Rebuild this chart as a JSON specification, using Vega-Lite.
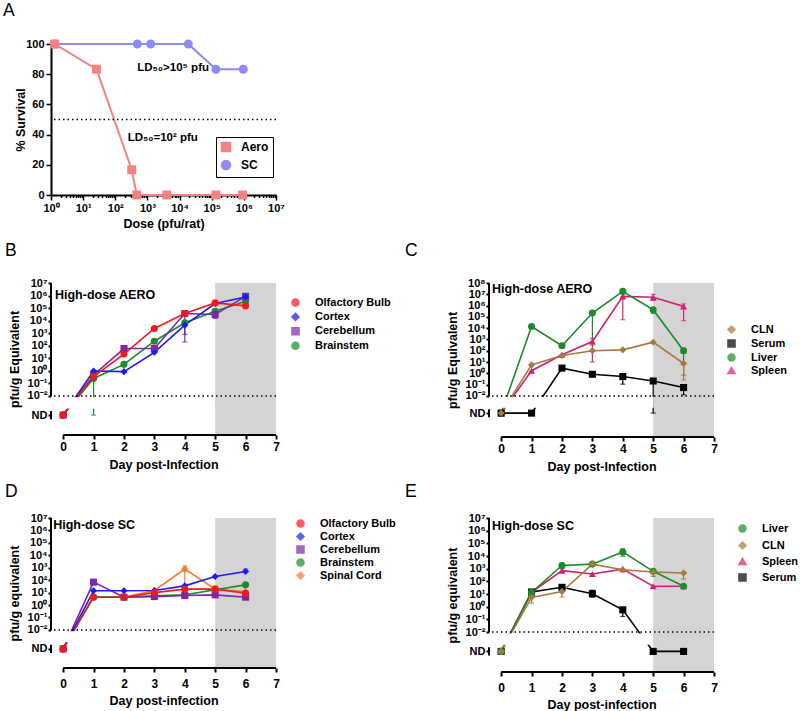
{
 "$schema": "https://vega.github.io/schema/vega-lite/v6.json",
 "padding": {"left": 3, "top": 1, "right": 0, "bottom": 0},
 "config": {
  "font": "Liberation Sans",
  "view": {"stroke": null},
  "axis": {"grid": false, "domainColor": "black", "tickColor": "black", "labelColor": "black", "titleColor": "black", "labelFontWeight": "bold", "titleFontWeight": "bold", "domainWidth": 2, "tickWidth": 1.5, "labelOverlap": false, "labelFlush": false},
  "legend": {"labelFontWeight": "bold", "labelColor": "black", "labelFontSize": 11},
  "title": {"fontWeight": "normal", "fontSize": 17.5, "anchor": "start", "frame": "group", "color": "black"}
 },
 "datasets": {
  "A": [
   {"route": "SC", "dose": 1.3, "survival": 100},
   {"route": "SC", "dose": 485, "survival": 100},
   {"route": "SC", "dose": 1260, "survival": 100},
   {"route": "SC", "dose": 18700, "survival": 100},
   {"route": "SC", "dose": 135000, "survival": 83.3},
   {"route": "SC", "dose": 960000, "survival": 83.3},
   {"route": "Aero", "dose": 1.3, "survival": 100},
   {"route": "Aero", "dose": 26, "survival": 83.3},
   {"route": "Aero", "dose": 325, "survival": 16.7},
   {"route": "Aero", "dose": 465, "survival": 0},
   {"route": "Aero", "dose": 4000, "survival": 0},
   {"route": "Aero", "dose": 135000, "survival": 0},
   {"route": "Aero", "dose": 920000, "survival": 0}
  ],
  "B": [
   {"day": 0, "tissue": "Brainstem", "pfu": 0.0003}, {"day": 1, "tissue": "Brainstem", "pfu": 0.25}, {"day": 2, "tissue": "Brainstem", "pfu": 3.3}, {"day": 3, "tissue": "Brainstem", "pfu": 230}, {"day": 4, "tissue": "Brainstem", "pfu": 6800}, {"day": 5, "tissue": "Brainstem", "pfu": 56000}, {"day": 6, "tissue": "Brainstem", "pfu": 350000},
   {"day": 0, "tissue": "Cerebellum", "pfu": 0.0003}, {"day": 1, "tissue": "Cerebellum", "pfu": 0.47}, {"day": 2, "tissue": "Cerebellum", "pfu": 60}, {"day": 3, "tissue": "Cerebellum", "pfu": 60}, {"day": 4, "tissue": "Cerebellum", "pfu": 37000}, {"day": 5, "tissue": "Cerebellum", "pfu": 31000}, {"day": 6, "tissue": "Cerebellum", "pfu": 870000},
   {"day": 0, "tissue": "Cortex", "pfu": 0.0003}, {"day": 1, "tissue": "Cortex", "pfu": 0.98}, {"day": 2, "tissue": "Cortex", "pfu": 0.87}, {"day": 3, "tissue": "Cortex", "pfu": 30}, {"day": 4, "tissue": "Cortex", "pfu": 4400}, {"day": 5, "tissue": "Cortex", "pfu": 230000}, {"day": 6, "tissue": "Cortex", "pfu": 780000},
   {"day": 0, "tissue": "Olfactory Bulb", "pfu": 0.0003}, {"day": 1, "tissue": "Olfactory Bulb", "pfu": 0.35}, {"day": 2, "tissue": "Olfactory Bulb", "pfu": 22}, {"day": 3, "tissue": "Olfactory Bulb", "pfu": 2400}, {"day": 4, "tissue": "Olfactory Bulb", "pfu": 37000}, {"day": 5, "tissue": "Olfactory Bulb", "pfu": 260000}, {"day": 6, "tissue": "Olfactory Bulb", "pfu": 150000}
  ],
  "B_err": [
   {"day": 1, "tissue": "Brainstem", "lo": 0.0003, "hi": 0.25},
   {"day": 4, "tissue": "Cortex", "lo": 800, "hi": 4400},
   {"day": 4, "tissue": "Cerebellum", "lo": 200, "hi": 37000},
   {"day": 5, "tissue": "Cerebellum", "lo": 15000, "hi": 31000}
  ],
  "C": [
   {"day": 0, "tissue": "Spleen", "pfu": 0.0003}, {"day": 1, "tissue": "Spleen", "pfu": 1.7}, {"day": 2, "tissue": "Spleen", "pfu": 44}, {"day": 3, "tissue": "Spleen", "pfu": 660}, {"day": 4, "tissue": "Spleen", "pfu": 6600000}, {"day": 5, "tissue": "Spleen", "pfu": 5400000}, {"day": 6, "tissue": "Spleen", "pfu": 850000},
   {"day": 0, "tissue": "Liver", "pfu": 0.0003}, {"day": 1, "tissue": "Liver", "pfu": 14000}, {"day": 2, "tissue": "Liver", "pfu": 275}, {"day": 3, "tissue": "Liver", "pfu": 220000}, {"day": 4, "tissue": "Liver", "pfu": 18000000}, {"day": 5, "tissue": "Liver", "pfu": 430000}, {"day": 6, "tissue": "Liver", "pfu": 100},
   {"day": 0, "tissue": "Serum", "pfu": 0.0003}, {"day": 1, "tissue": "Serum", "pfu": 0.0003}, {"day": 2, "tissue": "Serum", "pfu": 2.9}, {"day": 3, "tissue": "Serum", "pfu": 0.83}, {"day": 4, "tissue": "Serum", "pfu": 0.52}, {"day": 5, "tissue": "Serum", "pfu": 0.21}, {"day": 6, "tissue": "Serum", "pfu": 0.055},
   {"day": 0, "tissue": "CLN", "pfu": 0.0003}, {"day": 1, "tissue": "CLN", "pfu": 5.6}, {"day": 2, "tissue": "CLN", "pfu": 38}, {"day": 3, "tissue": "CLN", "pfu": 100}, {"day": 4, "tissue": "CLN", "pfu": 120}, {"day": 5, "tissue": "CLN", "pfu": 575}, {"day": 6, "tissue": "CLN", "pfu": 7.4}
  ],
  "C_err": [
   {"day": 3, "tissue": "Spleen", "lo": 10, "hi": 1260},
   {"day": 3, "tissue": "Liver", "lo": 316, "hi": 350000},
   {"day": 4, "tissue": "Spleen", "lo": 56000, "hi": 6600000},
   {"day": 5, "tissue": "Spleen", "lo": 3000000, "hi": 10000000},
   {"day": 6, "tissue": "Spleen", "lo": 46000, "hi": 1400000},
   {"day": 5, "tissue": "Liver", "lo": 200000, "hi": 430000},
   {"day": 6, "tissue": "Liver", "lo": 0.7, "hi": 170},
   {"day": 6, "tissue": "CLN", "lo": 0.26, "hi": 7.4},
   {"day": 4, "tissue": "Serum", "lo": 0.11, "hi": 0.52},
   {"day": 5, "tissue": "Serum", "lo": 0.0003, "hi": 0.21},
   {"day": 6, "tissue": "Serum", "lo": 0.0126, "hi": 0.055}
  ],
  "D": [
   {"day": 0, "tissue": "Spinal Cord", "pfu": 0.0003}, {"day": 1, "tissue": "Spinal Cord", "pfu": 4.8}, {"day": 2, "tissue": "Spinal Cord", "pfu": 4.3}, {"day": 3, "tissue": "Spinal Cord", "pfu": 15}, {"day": 4, "tissue": "Spinal Cord", "pfu": 780}, {"day": 5, "tissue": "Spinal Cord", "pfu": 19}, {"day": 6, "tissue": "Spinal Cord", "pfu": 12},
   {"day": 0, "tissue": "Brainstem", "pfu": 0.0003}, {"day": 1, "tissue": "Brainstem", "pfu": 4.5}, {"day": 2, "tissue": "Brainstem", "pfu": 4.5}, {"day": 3, "tissue": "Brainstem", "pfu": 5.6}, {"day": 4, "tissue": "Brainstem", "pfu": 6.6}, {"day": 5, "tissue": "Brainstem", "pfu": 17}, {"day": 6, "tissue": "Brainstem", "pfu": 42},
   {"day": 0, "tissue": "Cerebellum", "pfu": 0.0003}, {"day": 1, "tissue": "Cerebellum", "pfu": 70}, {"day": 2, "tissue": "Cerebellum", "pfu": 4.3}, {"day": 3, "tissue": "Cerebellum", "pfu": 4.8}, {"day": 4, "tissue": "Cerebellum", "pfu": 5.8}, {"day": 5, "tissue": "Cerebellum", "pfu": 6.6}, {"day": 6, "tissue": "Cerebellum", "pfu": 4.3},
   {"day": 0, "tissue": "Cortex", "pfu": 0.0003}, {"day": 1, "tissue": "Cortex", "pfu": 14}, {"day": 2, "tissue": "Cortex", "pfu": 14}, {"day": 3, "tissue": "Cortex", "pfu": 15}, {"day": 4, "tissue": "Cortex", "pfu": 35}, {"day": 5, "tissue": "Cortex", "pfu": 200}, {"day": 6, "tissue": "Cortex", "pfu": 500},
   {"day": 0, "tissue": "Olfactory Bulb", "pfu": 0.0003}, {"day": 1, "tissue": "Olfactory Bulb", "pfu": 4.3}, {"day": 2, "tissue": "Olfactory Bulb", "pfu": 4.3}, {"day": 3, "tissue": "Olfactory Bulb", "pfu": 10}, {"day": 4, "tissue": "Olfactory Bulb", "pfu": 19}, {"day": 5, "tissue": "Olfactory Bulb", "pfu": 19}, {"day": 6, "tissue": "Olfactory Bulb", "pfu": 9}
  ],
  "D_err": [
   {"day": 4, "tissue": "Spinal Cord", "lo": 30, "hi": 1450},
   {"day": 6, "tissue": "Cortex", "lo": 500, "hi": 780},
   {"day": 4, "tissue": "Cerebellum", "lo": 3.5, "hi": 5.8},
   {"day": 1, "tissue": "Cerebellum", "lo": 70, "hi": 100},
   {"day": 1, "tissue": "Olfactory Bulb", "lo": 2.8, "hi": 4.3},
   {"day": 5, "tissue": "Spinal Cord", "lo": 19, "hi": 35}
  ],
  "E": [
   {"day": 0, "tissue": "Serum", "pfu": 0.0003}, {"day": 1, "tissue": "Serum", "pfu": 14.5}, {"day": 2, "tissue": "Serum", "pfu": 34}, {"day": 3, "tissue": "Serum", "pfu": 10.7}, {"day": 4, "tissue": "Serum", "pfu": 0.57}, {"day": 5, "tissue": "Serum", "pfu": 0.0003}, {"day": 6, "tissue": "Serum", "pfu": 0.0003},
   {"day": 0, "tissue": "Spleen", "pfu": 0.0003}, {"day": 1, "tissue": "Spleen", "pfu": 13.5}, {"day": 2, "tissue": "Spleen", "pfu": 700}, {"day": 3, "tissue": "Spleen", "pfu": 380}, {"day": 4, "tissue": "Spleen", "pfu": 930}, {"day": 5, "tissue": "Spleen", "pfu": 41}, {"day": 6, "tissue": "Spleen", "pfu": 41},
   {"day": 0, "tissue": "Liver", "pfu": 0.0003}, {"day": 1, "tissue": "Liver", "pfu": 13.5}, {"day": 2, "tissue": "Liver", "pfu": 1800}, {"day": 3, "tissue": "Liver", "pfu": 2300}, {"day": 4, "tissue": "Liver", "pfu": 21000}, {"day": 5, "tissue": "Liver", "pfu": 620}, {"day": 6, "tissue": "Liver", "pfu": 41},
   {"day": 0, "tissue": "CLN", "pfu": 0.0003}, {"day": 1, "tissue": "CLN", "pfu": 5.5}, {"day": 2, "tissue": "CLN", "pfu": 16}, {"day": 3, "tissue": "CLN", "pfu": 2300}, {"day": 4, "tissue": "CLN", "pfu": 830}, {"day": 5, "tissue": "CLN", "pfu": 550}, {"day": 6, "tissue": "CLN", "pfu": 460}
  ],
  "E_err": [
   {"day": 4, "tissue": "Liver", "lo": 9300, "hi": 38000},
   {"day": 2, "tissue": "Liver", "lo": 1100, "hi": 2800},
   {"day": 1, "tissue": "CLN", "lo": 1.9, "hi": 5.5},
   {"day": 2, "tissue": "CLN", "lo": 5.8, "hi": 16},
   {"day": 6, "tissue": "CLN", "lo": 150, "hi": 460},
   {"day": 4, "tissue": "Serum", "lo": 0.17, "hi": 0.57},
   {"day": 3, "tissue": "Serum", "lo": 5.6, "hi": 20},
   {"day": 2, "tissue": "Spleen", "lo": 500, "hi": 1000},
   {"day": 5, "tissue": "Liver", "lo": 250, "hi": 620}
  ]
 },
 "resolve": {"scale": {"x": "independent", "y": "independent", "color": "independent", "shape": "independent"}, "axis": {"x": "independent", "y": "independent"}, "legend": {"color": "independent", "shape": "independent"}},
 "bounds": "flush",
 "columns": 2,
 "spacing": {"row": 81, "column": 213},
 "concat": [
    {
     "width": 225, "height": 151,
     "title": {"text": "A", "dx": -48, "offset": 19},
     "data": {"name": "A"},
     "layer": [
      {"mark": {"type": "line", "strokeWidth": 2}, "encoding": {
        "x": {"field": "dose", "type": "quantitative", "scale": {"type": "log", "domain": [1, 10000000], "nice": false},
              "axis": {"values": [1,2,3,4,5,6,7,8,9,10,20,30,40,50,60,70,80,90,100,200,300,400,500,600,700,800,900,1000,2000,3000,4000,5000,6000,7000,8000,9000,10000,20000,30000,40000,50000,60000,70000,80000,90000,100000,200000,300000,400000,500000,600000,700000,800000,900000,1000000,2000000,3000000,4000000,5000000,6000000,7000000,8000000,9000000,10000000],
                       "tickCount": 100,
                       "labelExpr": "abs(log(datum.value)/LN10 - round(log(datum.value)/LN10)) < 0.01 ? '10' + ['⁰','¹','²','³','⁴','⁵','⁶','⁷','⁸','⁹'][round(log(datum.value)/LN10)] : ''",
                       "tickSize": {"condition": {"test": "abs(log(datum.value)/LN10 - round(log(datum.value)/LN10)) < 0.01", "value": 5}, "value": 2.5},
                       "labelOverlap": false, "labelFlush": false, "labelFontSize": 11, "labelPadding": 2, "titleFontSize": 12.5, "titlePadding": 4},
              "title": "Dose (pfu/rat)"},
        "y": {"field": "survival", "type": "quantitative", "scale": {"domain": [0, 100], "nice": false},
              "axis": {"values": [0, 20, 40, 60, 80, 100], "tickCount": 20, "format": "d", "tickSize": 5, "labelOverlap": false, "labelFontSize": 11, "labelPadding": 2, "titleFontSize": 12.5, "titlePadding": -2},
              "title": "% Survival"},
        "color": {"field": "route", "type": "nominal", "scale": {"domain": ["Aero", "SC"], "range": ["#f48282", "#8b8bf3"]},
                  "legend": {"orient": "none", "legendX": 165, "legendY": 93, "title": null, "strokeColor": "black", "padding": 4, "symbolSize": 80, "labelOffset": 9, "rowPadding": 2, "labelFontSize": 12}}
      }},
      {"data": {"values": [{}]}, "mark": {"type": "rule", "strokeDash": [1.5, 3], "strokeWidth": 1.5, "color": "black"}, "encoding": {"y": {"datum": 50, "type": "quantitative"}}},
      {"mark": {"type": "point", "filled": true, "size": 80, "opacity": 1}, "encoding": {
        "x": {"field": "dose", "type": "quantitative"},
        "y": {"field": "survival", "type": "quantitative"},
        "color": {"field": "route", "type": "nominal"},
        "shape": {"field": "route", "type": "nominal", "scale": {"domain": ["Aero", "SC"], "range": ["square", "circle"]}}
      }},
      {"data": {"values": [{}]}, "mark": {"type": "text", "align": "center", "baseline": "middle", "fontSize": 11.5, "fontWeight": "bold", "color": "black"}, "encoding": {"x": {"datum": 6300, "type": "quantitative"}, "y": {"datum": 84, "type": "quantitative"}, "text": {"value": "LD₅₀>10⁵ pfu"}}},
      {"data": {"values": [{}]}, "mark": {"type": "text", "align": "center", "baseline": "middle", "fontSize": 11.5, "fontWeight": "bold", "color": "black"}, "encoding": {"x": {"datum": 3000, "type": "quantitative"}, "y": {"datum": 37.7, "type": "quantitative"}, "text": {"value": "LD₅₀=10² pfu"}}}
     ]
    },
    {
     "width": 225, "height": 158,
     "data": {"values": [{}]},
     "mark": {"type": "point", "opacity": 0},
     "encoding": {}
    },
      {
       "width": 225, "height": 152,
       "title": {"text": "B", "dx": -46, "offset": 18},
       "layer": [
        {"data": {"values": [{}]}, "mark": {"type": "rect", "color": "#d4d4d4"}, "encoding": {"x": {"datum": 5, "type": "quantitative"}, "x2": {"datum": 7}, "y": {"datum": 7.8e-6, "type": "quantitative"}, "y2": {"datum": 10000000}}},
        {"data": {"name": "B_err"}, "mark": {"type": "errorbar", "ticks": true, "thickness": 1.2}, "encoding": {"x": {"field": "day", "type": "quantitative", "title": "Day post-Infection"}, "y": {"field": "lo", "type": "quantitative", "title": "pfu/g Equivalent"}, "y2": {"field": "hi"}, "color": {"field": "tissue", "type": "nominal"}}},
        {"data": {"name": "B"}, "mark": {"type": "line", "strokeWidth": 1.6}, "encoding": {
          "x": {"field": "day", "type": "quantitative", "scale": {"domain": [-0.4, 7], "nice": false, "zero": false},
                "axis": {"values": [0,1,2,3,4,5,6,7], "tickCount": 20, "format": "d", "domain": false, "tickSize": 4, "tickWidth": 2, "labelOverlap": false, "labelFontSize": 12, "labelPadding": 2, "titleFontSize": 12.5, "titlePadding": 6},
                "title": "Day post-Infection"},
          "y": {"field": "pfu", "type": "quantitative", "scale": {"type": "log", "domain": [7.8e-6, 10000000], "nice": false},
                "axis": {"values": [0.0003, 0.01, 0.1, 1, 10, 100, 1000, 10000, 100000, 1000000, 10000000], "tickCount": 30,
                         "labelExpr": "datum.value < 0.001 ? 'ND' : '10' + (datum.value < 0.5 ? '⁻' : '') + ['⁰','¹','²','³','⁴','⁵','⁶','⁷','⁸','⁹'][abs(round(log(datum.value)/LN10))]",
                         "domain": false, "tickSize": 3, "tickWidth": 2, "labelFontSize": 11, "labelPadding": 1, "labelOverlap": false, "titleFontSize": 12.5, "titlePadding": 6},
                "title": "pfu/g Equivalent"},
          "color": {"field": "tissue", "type": "nominal", "scale": {"domain": ["Olfactory Bulb", "Cortex", "Cerebellum", "Brainstem"], "range": ["#f2191e", "#1c1cf0", "#7f26a8", "#1a8a2a"]},
                    "legend": {"orient": "none", "legendX": 239, "legendY": 14, "title": null, "padding": 0, "symbolSize": 50, "labelOffset": 14, "rowPadding": -0.6}}
        }},
        {"data": {"name": "B"}, "mark": {"type": "point", "filled": true, "size": 50, "opacity": 1}, "encoding": {
          "x": {"field": "day", "type": "quantitative"},
          "y": {"field": "pfu", "type": "quantitative"},
          "color": {"field": "tissue", "type": "nominal"},
          "shape": {"field": "tissue", "type": "nominal", "scale": {"domain": ["Olfactory Bulb", "Cortex", "Cerebellum", "Brainstem"], "range": ["circle", "diamond", "square", "circle"]}}
        }},
        {"data": {"values": [{}]}, "mark": {"type": "rect", "color": "white"}, "encoding": {"x": {"datum": -0.4, "type": "quantitative"}, "x2": {"datum": 5}, "y": {"datum": 0.001, "type": "quantitative"}, "y2": {"datum": 0.0079}}},
        {"data": {"values": [{}]}, "mark": {"type": "rect", "color": "#d4d4d4"}, "encoding": {"x": {"datum": 5, "type": "quantitative"}, "x2": {"datum": 7}, "y": {"datum": 0.001, "type": "quantitative"}, "y2": {"datum": 0.0079}}},
        {"data": {"values": [{}]}, "mark": {"type": "rule", "strokeDash": [1.5, 3], "strokeWidth": 1.5, "color": "black"}, "encoding": {"y": {"datum": 0.01, "type": "quantitative"}}},
        {"data": {"values": [{}]}, "mark": {"type": "rule", "strokeWidth": 2, "color": "black"}, "encoding": {"x": {"datum": -0.4, "type": "quantitative"}, "y": {"datum": 0.01, "type": "quantitative"}, "y2": {"datum": 10000000}}},
        {"data": {"values": [{}]}, "mark": {"type": "rule", "strokeWidth": 2, "color": "black"}, "encoding": {"x": {"datum": -0.4, "type": "quantitative"}, "y": {"datum": 0.00014, "type": "quantitative"}, "y2": {"datum": 0.00063}}},
        {"data": {"values": [{}]}, "mark": {"type": "rule", "strokeWidth": 2, "color": "black"}, "encoding": {"x": {"datum": 0, "type": "quantitative"}, "x2": {"datum": 7}, "y": {"datum": 7.8e-6, "type": "quantitative"}}},
        {"data": {"values": [{}]}, "mark": {"type": "text", "align": "left", "baseline": "middle", "fontSize": 12.5, "fontWeight": "bold", "color": "black"}, "encoding": {"x": {"datum": -0.27, "type": "quantitative"}, "y": {"datum": 1100000, "type": "quantitative"}, "text": {"value": "High-dose AERO"}}}
       ]
      },
      {
       "width": 225, "height": 154,
       "title": {"text": "C", "dx": -84, "offset": 18},
       "layer": [
        {"data": {"values": [{}]}, "mark": {"type": "rect", "color": "#d4d4d4"}, "encoding": {"x": {"datum": 5, "type": "quantitative"}, "x2": {"datum": 7}, "y": {"datum": 2.3e-6, "type": "quantitative"}, "y2": {"datum": 100000000}}},
        {"data": {"name": "C_err"}, "mark": {"type": "errorbar", "ticks": true, "thickness": 1.2}, "encoding": {"x": {"field": "day", "type": "quantitative", "title": "Day post-Infection"}, "y": {"field": "lo", "type": "quantitative", "title": "pfu/g Equivalent"}, "y2": {"field": "hi"}, "color": {"field": "tissue", "type": "nominal"}}},
        {"data": {"name": "C"}, "mark": {"type": "line", "strokeWidth": 1.6}, "encoding": {
          "x": {"field": "day", "type": "quantitative", "scale": {"domain": [-0.4, 7], "nice": false, "zero": false},
                "axis": {"values": [0,1,2,3,4,5,6,7], "tickCount": 20, "format": "d", "domain": false, "tickSize": 4, "tickWidth": 2, "labelOverlap": false, "labelFontSize": 12, "labelPadding": 2, "titleFontSize": 12.5, "titlePadding": 6},
                "title": "Day post-Infection"},
          "y": {"field": "pfu", "type": "quantitative", "scale": {"type": "log", "domain": [2.3e-6, 100000000], "nice": false},
                "axis": {"values": [0.0003, 0.01, 0.1, 1, 10, 100, 1000, 10000, 100000, 1000000, 10000000, 100000000], "tickCount": 30,
                         "labelExpr": "datum.value < 0.001 ? 'ND' : '10' + (datum.value < 0.5 ? '⁻' : '') + ['⁰','¹','²','³','⁴','⁵','⁶','⁷','⁸','⁹'][abs(round(log(datum.value)/LN10))]",
                         "domain": false, "tickSize": 3, "tickWidth": 2, "labelFontSize": 11, "labelPadding": 1, "labelOverlap": false, "titleFontSize": 12.5, "titlePadding": 6},
                "title": "pfu/g Equivalent"},
          "color": {"field": "tissue", "type": "nominal", "scale": {"domain": ["CLN", "Serum", "Liver", "Spleen"], "range": ["#a57a3e", "#000000", "#1a8a2a", "#d2226f"]},
                    "legend": {"orient": "none", "legendX": 237, "legendY": 41, "title": null, "padding": 0, "symbolSize": 50, "labelOffset": 14, "rowPadding": -1}}
        }},
        {"data": {"name": "C"}, "mark": {"type": "point", "filled": true, "size": 50, "opacity": 1}, "encoding": {
          "x": {"field": "day", "type": "quantitative"},
          "y": {"field": "pfu", "type": "quantitative"},
          "color": {"field": "tissue", "type": "nominal"},
          "shape": {"field": "tissue", "type": "nominal", "scale": {"domain": ["CLN", "Serum", "Liver", "Spleen"], "range": ["diamond", "square", "circle", "triangle-up"]}}
        }},
        {"data": {"values": [{}]}, "mark": {"type": "rect", "color": "white"}, "encoding": {"x": {"datum": -0.4, "type": "quantitative"}, "x2": {"datum": 5}, "y": {"datum": 0.00089, "type": "quantitative"}, "y2": {"datum": 0.0079}}},
        {"data": {"values": [{}]}, "mark": {"type": "rect", "color": "#d4d4d4"}, "encoding": {"x": {"datum": 5, "type": "quantitative"}, "x2": {"datum": 7}, "y": {"datum": 0.00089, "type": "quantitative"}, "y2": {"datum": 0.0079}}},
        {"data": {"values": [{}]}, "mark": {"type": "rule", "strokeDash": [1.5, 3], "strokeWidth": 1.5, "color": "black"}, "encoding": {"y": {"datum": 0.01, "type": "quantitative"}}},
        {"data": {"values": [{}]}, "mark": {"type": "rule", "strokeWidth": 2, "color": "black"}, "encoding": {"x": {"datum": -0.4, "type": "quantitative"}, "y": {"datum": 0.01, "type": "quantitative"}, "y2": {"datum": 100000000}}},
        {"data": {"values": [{}]}, "mark": {"type": "rule", "strokeWidth": 2, "color": "black"}, "encoding": {"x": {"datum": -0.4, "type": "quantitative"}, "y": {"datum": 0.00013, "type": "quantitative"}, "y2": {"datum": 0.00065}}},
        {"data": {"values": [{}]}, "mark": {"type": "rule", "strokeWidth": 2, "color": "black"}, "encoding": {"x": {"datum": 0, "type": "quantitative"}, "x2": {"datum": 7}, "y": {"datum": 2.3e-6, "type": "quantitative"}}},
        {"data": {"values": [{}]}, "mark": {"type": "text", "align": "left", "baseline": "middle", "fontSize": 12.5, "fontWeight": "bold", "color": "black"}, "encoding": {"x": {"datum": -0.3, "type": "quantitative"}, "y": {"datum": 30000000, "type": "quantitative"}, "text": {"value": "High-dose AERO"}}}
       ]
      },
    {
     "width": 225, "height": 150,
     "title": {"text": "D", "dx": -46, "offset": 12},
     "layer": [
      {"data": {"values": [{}]}, "mark": {"type": "rect", "color": "#d4d4d4"}, "encoding": {"x": {"datum": 5, "type": "quantitative"}, "x2": {"datum": 7}, "y": {"datum": 8.7e-6, "type": "quantitative"}, "y2": {"datum": 10000000}}},
      {"data": {"name": "D_err"}, "mark": {"type": "errorbar", "ticks": true, "thickness": 1.2}, "encoding": {"x": {"field": "day", "type": "quantitative", "title": "Day post-infection"}, "y": {"field": "lo", "type": "quantitative", "title": "pfu/g equivalent"}, "y2": {"field": "hi"}, "color": {"field": "tissue", "type": "nominal"}}},
      {"data": {"name": "D"}, "mark": {"type": "line", "strokeWidth": 1.6}, "encoding": {
        "x": {"field": "day", "type": "quantitative", "scale": {"domain": [-0.4, 7], "nice": false, "zero": false},
              "axis": {"values": [0,1,2,3,4,5,6,7], "tickCount": 20, "format": "d", "domain": false, "tickSize": 4, "tickWidth": 2, "labelOverlap": false, "labelFontSize": 12, "labelPadding": 6, "titleFontSize": 12.5, "titlePadding": 5},
              "title": "Day post-infection"},
        "y": {"field": "pfu", "type": "quantitative", "scale": {"type": "log", "domain": [8.7e-6, 10000000], "nice": false},
              "axis": {"values": [0.0003, 0.01, 0.1, 1, 10, 100, 1000, 10000, 100000, 1000000, 10000000], "tickCount": 30,
                       "labelExpr": "datum.value < 0.001 ? 'ND' : '10' + (datum.value < 0.5 ? '⁻' : '') + ['⁰','¹','²','³','⁴','⁵','⁶','⁷','⁸','⁹'][abs(round(log(datum.value)/LN10))]",
                       "domain": false, "tickSize": 3, "tickWidth": 2, "labelFontSize": 11, "labelPadding": 1, "labelOverlap": false, "titleFontSize": 12.5, "titlePadding": 6},
              "title": "pfu/g equivalent"},
        "color": {"field": "tissue", "type": "nominal", "scale": {"domain": ["Olfactory Bulb", "Cortex", "Cerebellum", "Brainstem", "Spinal Cord"], "range": ["#f2191e", "#1c1cf0", "#7f26a8", "#1a8a2a", "#fb7a28"]},
                  "legend": {"orient": "none", "legendX": 244, "legendY": 0, "title": null, "padding": 0, "symbolSize": 50, "labelOffset": 14, "rowPadding": -2.3}}
      }},
      {"data": {"name": "D"}, "mark": {"type": "point", "filled": true, "size": 50, "opacity": 1}, "encoding": {
        "x": {"field": "day", "type": "quantitative"},
        "y": {"field": "pfu", "type": "quantitative"},
        "color": {"field": "tissue", "type": "nominal"},
        "shape": {"field": "tissue", "type": "nominal", "scale": {"domain": ["Olfactory Bulb", "Cortex", "Cerebellum", "Brainstem", "Spinal Cord"], "range": ["circle", "diamond", "square", "circle", "diamond"]}}
      }},
      {"data": {"values": [{}]}, "mark": {"type": "rect", "color": "white"}, "encoding": {"x": {"datum": -0.4, "type": "quantitative"}, "x2": {"datum": 5}, "y": {"datum": 0.001, "type": "quantitative"}, "y2": {"datum": 0.0079}}},
      {"data": {"values": [{}]}, "mark": {"type": "rect", "color": "#d4d4d4"}, "encoding": {"x": {"datum": 5, "type": "quantitative"}, "x2": {"datum": 7}, "y": {"datum": 0.001, "type": "quantitative"}, "y2": {"datum": 0.0079}}},
      {"data": {"values": [{}]}, "mark": {"type": "rule", "strokeDash": [1.5, 3], "strokeWidth": 1.5, "color": "black"}, "encoding": {"y": {"datum": 0.01, "type": "quantitative"}}},
      {"data": {"values": [{}]}, "mark": {"type": "rule", "strokeWidth": 2, "color": "black"}, "encoding": {"x": {"datum": -0.4, "type": "quantitative"}, "y": {"datum": 0.01, "type": "quantitative"}, "y2": {"datum": 10000000}}},
      {"data": {"values": [{}]}, "mark": {"type": "rule", "strokeWidth": 2, "color": "black"}, "encoding": {"x": {"datum": -0.4, "type": "quantitative"}, "y": {"datum": 0.00014, "type": "quantitative"}, "y2": {"datum": 0.00063}}},
      {"data": {"values": [{}]}, "mark": {"type": "rule", "strokeWidth": 2, "color": "black"}, "encoding": {"x": {"datum": 0, "type": "quantitative"}, "x2": {"datum": 7}, "y": {"datum": 8.7e-6, "type": "quantitative"}}},
      {"data": {"values": [{}]}, "mark": {"type": "text", "align": "left", "baseline": "middle", "fontSize": 12.5, "fontWeight": "bold", "color": "black"}, "encoding": {"x": {"datum": -0.33, "type": "quantitative"}, "y": {"datum": 2900000, "type": "quantitative"}, "text": {"value": "High-dose SC"}}}
     ]
    },
    {
     "width": 225, "height": 154,
     "title": {"text": "E", "dx": -84, "offset": 12},
     "layer": [
      {"data": {"values": [{}]}, "mark": {"type": "rect", "color": "#d4d4d4"}, "encoding": {"x": {"datum": 5, "type": "quantitative"}, "x2": {"datum": 7}, "y": {"datum": 7.1e-6, "type": "quantitative"}, "y2": {"datum": 10000000}}},
      {"data": {"name": "E_err"}, "mark": {"type": "errorbar", "ticks": true, "thickness": 1.2}, "encoding": {"x": {"field": "day", "type": "quantitative", "title": "Day post-infection"}, "y": {"field": "lo", "type": "quantitative", "title": "pfu/g equivalent"}, "y2": {"field": "hi"}, "color": {"field": "tissue", "type": "nominal"}}},
      {"data": {"name": "E"}, "mark": {"type": "line", "strokeWidth": 1.6}, "encoding": {
        "x": {"field": "day", "type": "quantitative", "scale": {"domain": [-0.4, 7], "nice": false, "zero": false},
              "axis": {"values": [0,1,2,3,4,5,6,7], "tickCount": 20, "format": "d", "domain": false, "tickSize": 4, "tickWidth": 2, "labelOverlap": false, "labelFontSize": 12, "labelPadding": 6, "titleFontSize": 12.5, "titlePadding": 5},
              "title": "Day post-infection"},
        "y": {"field": "pfu", "type": "quantitative", "scale": {"type": "log", "domain": [7.1e-6, 10000000], "nice": false},
              "axis": {"values": [0.0003, 0.01, 0.1, 1, 10, 100, 1000, 10000, 100000, 1000000, 10000000], "tickCount": 30,
                       "labelExpr": "datum.value < 0.001 ? 'ND' : '10' + (datum.value < 0.5 ? '⁻' : '') + ['⁰','¹','²','³','⁴','⁵','⁶','⁷','⁸','⁹'][abs(round(log(datum.value)/LN10))]",
                       "domain": false, "tickSize": 3, "tickWidth": 2, "labelFontSize": 11, "labelPadding": 1, "labelOverlap": false, "titleFontSize": 12.5, "titlePadding": 6},
              "title": "pfu/g equivalent"},
        "color": {"field": "tissue", "type": "nominal", "scale": {"domain": ["Liver", "CLN", "Spleen", "Serum"], "range": ["#1a8a2a", "#a57a3e", "#d2226f", "#000000"]},
                  "legend": {"orient": "none", "legendX": 248, "legendY": 5, "title": null, "padding": 0, "symbolSize": 50, "labelOffset": 14, "rowPadding": 2}}
      }},
      {"data": {"name": "E"}, "mark": {"type": "point", "filled": true, "size": 50, "opacity": 1}, "encoding": {
        "x": {"field": "day", "type": "quantitative"},
        "y": {"field": "pfu", "type": "quantitative"},
        "color": {"field": "tissue", "type": "nominal"},
        "shape": {"field": "tissue", "type": "nominal", "scale": {"domain": ["Liver", "CLN", "Spleen", "Serum"], "range": ["circle", "diamond", "triangle-up", "square"]}}
      }},
      {"data": {"values": [{}]}, "mark": {"type": "rect", "color": "white"}, "encoding": {"x": {"datum": -0.4, "type": "quantitative"}, "x2": {"datum": 5}, "y": {"datum": 0.001, "type": "quantitative"}, "y2": {"datum": 0.0079}}},
      {"data": {"values": [{}]}, "mark": {"type": "rect", "color": "#d4d4d4"}, "encoding": {"x": {"datum": 5, "type": "quantitative"}, "x2": {"datum": 7}, "y": {"datum": 0.001, "type": "quantitative"}, "y2": {"datum": 0.0079}}},
      {"data": {"values": [{}]}, "mark": {"type": "rule", "strokeDash": [1.5, 3], "strokeWidth": 1.5, "color": "black"}, "encoding": {"y": {"datum": 0.01, "type": "quantitative"}}},
      {"data": {"values": [{}]}, "mark": {"type": "rule", "strokeWidth": 2, "color": "black"}, "encoding": {"x": {"datum": -0.4, "type": "quantitative"}, "y": {"datum": 0.01, "type": "quantitative"}, "y2": {"datum": 10000000}}},
      {"data": {"values": [{}]}, "mark": {"type": "rule", "strokeWidth": 2, "color": "black"}, "encoding": {"x": {"datum": -0.4, "type": "quantitative"}, "y": {"datum": 0.00014, "type": "quantitative"}, "y2": {"datum": 0.00063}}},
      {"data": {"values": [{}]}, "mark": {"type": "rule", "strokeWidth": 2, "color": "black"}, "encoding": {"x": {"datum": 0, "type": "quantitative"}, "x2": {"datum": 7}, "y": {"datum": 7.1e-6, "type": "quantitative"}}},
      {"data": {"values": [{}]}, "mark": {"type": "text", "align": "left", "baseline": "middle", "fontSize": 12.5, "fontWeight": "bold", "color": "black"}, "encoding": {"x": {"datum": -0.3, "type": "quantitative"}, "y": {"datum": 2500000, "type": "quantitative"}, "text": {"value": "High-dose SC"}}}
     ]
    }
 ]
}
